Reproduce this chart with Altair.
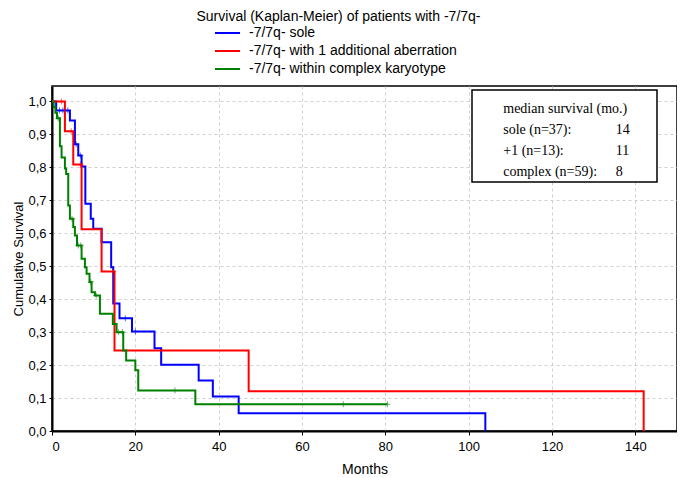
import altair as alt
import pandas as pd

# ---------------- data ----------------
series_names = ["-7/7q- sole",
                "-7/7q- with 1 additional aberration",
                "-7/7q- within complex karyotype"]
series_colors = ["#0000FF", "#FF0000", "#008000"]

# Kaplan-Meier step curves (time in months, cumulative survival)
sole_t = [0, 1.0, 4.3, 5.5, 6.3, 7.1, 8.0, 9.3, 9.9, 11.9, 14.2, 14.7, 16.2,
          19.2, 24.6, 26.2, 35.2, 38.6, 44.8, 104]
sole_s = [1.0, 0.973, 0.942, 0.870, 0.836, 0.803, 0.690, 0.644, 0.614, 0.573,
          0.497, 0.387, 0.342, 0.302, 0.251, 0.201, 0.153, 0.105, 0.054, 0.0]
sole_cens = [1.8, 2.6, 3.8, 5.8, 6.8, 17.6, 20.0]

plus1_t = [0, 3.1, 5.1, 7.1, 11.9, 15.0, 47.2, 142]
plus1_s = [1.0, 0.910, 0.809, 0.612, 0.484, 0.244, 0.121, 0.0]
plus1_cens = [2.3, 4.6, 6.8, 14.6]

complex_t = [0, 0.4, 0.8, 1.2, 1.9, 2.3, 3.1, 3.4, 3.9, 4.3, 5.1, 5.5, 6.0,
             7.1, 7.9, 8.3, 9.0, 9.5, 10.3, 11.5, 14.6, 15.5, 17.1, 17.8,
             20.0, 20.7, 34.4, 80.5]
complex_s = [1.0, 0.983, 0.966, 0.949, 0.864, 0.830, 0.797, 0.780, 0.684,
             0.644, 0.619, 0.593, 0.563, 0.523, 0.497, 0.477, 0.452, 0.421,
             0.411, 0.356, 0.325, 0.300, 0.244, 0.214, 0.184, 0.123, 0.081,
             0.081]
complex_cens = [1.5, 4.8, 6.3, 6.9, 9.3, 10.6, 16.0, 16.9, 29.5, 69.9, 80.5]

x_ticks = [0, 20, 40, 60, 80, 100, 120, 140]
y_ticks = [0.0, 0.1, 0.2, 0.3, 0.4, 0.5, 0.6, 0.7, 0.8, 0.9, 1.0]

box_labels = ["median survival (mo.)", "sole (n=37):", "+1 (n=13):",
              "complex (n=59):"]
box_values = ["", "14", "11", "8"]

# ---------------- tables ----------------
curves = [(series_names[0], sole_t, sole_s, sole_cens),
          (series_names[1], plus1_t, plus1_s, plus1_cens),
          (series_names[2], complex_t, complex_s, complex_cens)]

line_rows, cens_rows = [], []
for name, t, s, cens in curves:
    for i, (tv, sv) in enumerate(zip(t, s)):
        line_rows.append({"series": name, "t": tv, "s": sv, "order": i})
    for c in cens:
        val = [sv for tv, sv in zip(t, s) if tv <= c][-1]
        cens_rows.append({"series": name, "t": c, "s": val})
lines_df = pd.DataFrame(line_rows)
cens_df = pd.DataFrame(cens_rows)

box_df = pd.DataFrame({"x": [100.8], "x2": [145.2], "y": [1.035], "y2": [0.756]})
text_df = pd.DataFrame({
    "label": box_labels,
    "value": box_values,
    "row": list(range(len(box_labels))),
})
text_df["y"] = 0.978 - text_df["row"] * 0.064
text_df["xl"] = 108.3
text_df["xv"] = 135.3

# ---------------- chart ----------------
x_scale = alt.Scale(domain=[0, 150], nice=False, zero=False)
y_scale = alt.Scale(domain=[0, 1.047], nice=False)

x_axis = alt.Axis(values=x_ticks, title="Months", grid=True, titlePadding=9,
                  labelPadding=5, labelOverlap=False)
y_axis = alt.Axis(values=y_ticks, title="Cumulative Survival", grid=True,
                  labelExpr="replace(format(datum.value, '.1f'), '.', ',')",
                  titlePadding=2, labelPadding=3, tickSize=3,
                  titleFontSize=13, labelOverlap=False)

color_scale = alt.Scale(domain=series_names, range=series_colors)
color = alt.Color(
    "series:N",
    scale=color_scale,
    legend=alt.Legend(
        title=None, orient="none", legendX=168.5, legendY=-60,
        symbolType="M-2.5,0H2.5", symbolSize=100, symbolStrokeWidth=2,
        labelOffset=14.5, rowPadding=4, labelFontSize=14, labelLimit=0,
        labelFont="Liberation Sans", labelColor="black", padding=0,
    ),
)

lines = alt.Chart(lines_df).mark_line(interpolate="step-after", strokeWidth=2).encode(
    x=alt.X("t:Q", scale=x_scale, axis=x_axis),
    y=alt.Y("s:Q", scale=y_scale, axis=y_axis),
    color=color,
    order="order:Q",
)

cens_pts = alt.Chart(cens_df).mark_point(
    shape="M-1,0H1M0,-1V1", size=36, filled=False, strokeWidth=1, opacity=0.6
).encode(
    x=alt.X("t:Q", scale=x_scale, axis=x_axis),
    y=alt.Y("s:Q", scale=y_scale, axis=y_axis),
    color=alt.Color("series:N", scale=color_scale, legend=None),
)

box = alt.Chart(box_df).mark_rect(fill="white", stroke="black", strokeWidth=1.5).encode(
    x=alt.X("x:Q", scale=x_scale, axis=x_axis), x2="x2:Q",
    y=alt.Y("y:Q", scale=y_scale, axis=y_axis), y2="y2:Q",
)

box_text = alt.Chart(text_df).mark_text(
    align="left", baseline="middle", font="Liberation Serif", fontSize=14,
    color="black",
).encode(
    x=alt.X("xl:Q", scale=x_scale, axis=x_axis),
    y=alt.Y("y:Q", scale=y_scale, axis=y_axis),
    text="label:N",
)

box_vals = alt.Chart(text_df).mark_text(
    align="left", baseline="middle", font="Liberation Serif", fontSize=14,
    color="black",
).encode(
    x=alt.X("xv:Q", scale=x_scale, axis=x_axis),
    y=alt.Y("y:Q", scale=y_scale, axis=y_axis),
    text="value:N",
)

chart = alt.layer(lines, cens_pts, box, box_text, box_vals).properties(
    width=625,
    height=345,
    title=alt.TitleParams(
        "Survival (Kaplan-Meier) of patients with -7/7q-",
        anchor="middle", offset=2, dx=-26,
        font="Liberation Sans", fontSize=14, fontWeight="normal", color="black",
    ),
    padding={"left": 44, "top": 78, "right": 0, "bottom": 45},
    autosize=alt.AutoSizeParams(type="none"),
).configure_view(
    stroke="black", strokeWidth=1.5,
).configure_axis(
    domainColor="black", domainWidth=2, tickColor="black", tickSize=4,
    gridColor="#cfcfcf", gridDash=[3, 3], gridWidth=1,
    labelFont="Liberation Sans", labelFontSize=13, labelColor="black",
    titleFont="Liberation Sans", titleFontSize=14, titleFontWeight="normal",
    titleColor="black",
)

chart.save("out.html", embed_options={"renderer": "svg", "actions": False})
